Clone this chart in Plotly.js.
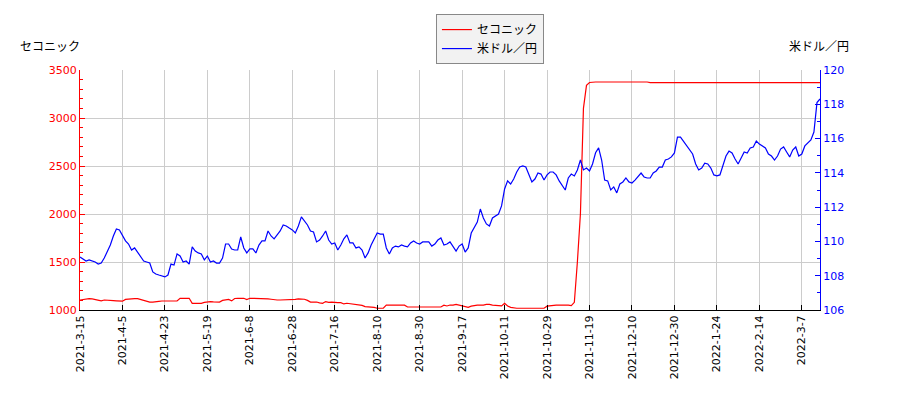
<!DOCTYPE html>
<html>
<head>
<meta charset="utf-8">
<script src="https://cdn.plot.ly/plotly-3.0.1.min.js"></script>
<style>html,body{margin:0;padding:0;background:#fff;}#chart{width:900px;height:400px;}</style>
</head>
<body>
<div id="chart"></div>
<script>
const tickLabels = ["2021-3-15","2021-4-5","2021-4-23","2021-5-19","2021-6-8","2021-6-28","2021-7-16","2021-8-10","2021-8-30","2021-9-17","2021-10-11","2021-10-29","2021-11-19","2021-12-10","2021-12-30","2022-1-24","2022-2-14","2022-3-7"];
const tickIndex = [0,14,28,42,56,70,84,98,112,126,140,154,168,182,196,210,224,238];

const seconic = [
1104,1110,1115,1118,1115,1110,1104,1095,1104,1104,
1100,1097,1095,1092,1092,1110,1115,1118,1118,1118,
1110,1097,1090,1083,1083,1083,1090,1094,1094,1094,
1094,1094,1094,1122,1122,1122,1122,1070,1070,1070,
1070,1080,1085,1087,1085,1083,1083,1100,1108,1110,
1095,1120,1122,1122,1122,1108,1122,1122,1122,1122,
1120,1118,1115,1112,1104,1104,1104,1104,1104,1104,
1104,1110,1115,1112,1112,1100,1083,1083,1083,1075,
1070,1088,1080,1083,1078,1076,1076,1063,1070,1066,
1063,1063,1055,1048,1035,1030,1030,1028,1018,1018,
1018,1050,1050,1050,1050,1050,1050,1050,1031,1031,
1031,1031,1031,1031,1031,1031,1031,1031,1031,1031,
1050,1042,1052,1050,1058,1050,1042,1035,1028,1040,
1048,1050,1050,1050,1058,1058,1050,1045,1040,1042,
1070,1042,1028,1020,1018,1018,1018,1015,1015,1015,
1015,1012,1015,1018,1040,1045,1050,1050,1050,1050,
1055,1050,1045,1080,1500,2000,3100,3340,3370,3375,
3375,3375,3375,3375,3375,3377,3375,3375,3375,3375,
3375,3375,3375,3375,3375,3375,3375,3375,3368,3368,
3368,3368,3368,3368,3368,3368,3368,3368,3368,3368,
3368,3368,3368,3368,3368,3368,3368,3368,3368,3368,
3368,3368,3368,3368,3368,3368,3368,3368,3368,3372,
3368,3368,3368,3368,3368,3368,3368,3368,3368,3368,
3368,3368,3368,3368,3368,3368,3368,3368,3368,3368,
3368,3368,3368,3368,3368
];

const usdjpy = [
109.09,108.97,108.86,108.92,108.86,108.80,108.68,108.74,109.03,109.44,
109.79,110.32,110.73,110.67,110.38,110.03,109.85,109.50,109.62,109.38,
109.09,108.86,108.80,108.74,108.22,108.10,108.04,107.98,107.93,108.04,
108.68,108.62,109.27,109.15,108.80,108.86,108.68,109.68,109.44,109.33,
109.27,108.92,109.15,108.80,108.86,108.74,108.74,109.03,109.85,109.85,
109.56,109.50,109.50,110.26,109.62,109.33,109.56,109.56,109.33,109.79,
110.03,110.03,110.61,110.32,110.15,110.38,110.61,110.96,110.90,110.78,
110.67,110.49,110.90,111.43,111.19,110.96,110.61,110.55,109.97,110.08,
110.32,110.61,110.08,109.85,109.91,109.50,109.79,110.15,110.38,109.91,
109.91,109.62,109.68,109.50,109.03,109.33,109.79,110.15,110.49,110.43,
110.43,109.62,109.27,109.62,109.73,109.68,109.79,109.73,109.68,109.91,
110.03,109.91,109.85,109.97,109.97,109.97,109.73,109.85,110.08,110.20,
109.79,109.85,109.97,109.68,109.44,109.73,109.85,109.38,109.62,110.49,
110.84,111.13,111.89,111.37,111.02,110.90,111.37,111.48,111.60,112.07,
113.06,113.53,113.35,113.64,114.05,114.34,114.40,114.34,113.93,113.47,
113.64,113.99,113.93,113.58,113.88,114.05,114.05,113.88,113.53,113.23,
113.00,113.70,113.93,113.82,114.17,114.75,114.17,114.28,114.11,114.52,
115.17,115.46,114.75,113.58,113.53,113.00,113.18,112.83,113.35,113.47,
113.70,113.47,113.41,113.58,113.76,113.99,113.76,113.70,113.70,113.99,
114.11,114.34,114.34,114.75,114.81,114.93,115.16,116.09,116.09,115.86,
115.63,115.39,115.10,114.52,114.17,114.28,114.57,114.52,114.28,113.88,
113.82,113.88,114.40,114.98,115.27,115.16,114.81,114.52,114.87,115.22,
115.16,115.45,115.51,115.86,115.68,115.57,115.45,115.10,114.98,114.75,
114.98,115.39,115.51,115.22,114.93,115.33,115.51,114.98,115.10,115.57,
115.74,115.92,116.38,118.10,118.31
];

const idxA = seconic.map((_, i) => i);
const idxB = usdjpy.map((_, i) => i);

const fontMain = "DejaVu Sans, sans-serif";
const fontJP = "Noto Sans CJK JP, sans-serif";

const traces = [
  {x: idxA, y: seconic, type: 'scatter', mode: 'lines', name: 'セコニック',
   line: {color: '#ff0000', width: 1.2}, yaxis: 'y'},
  {x: idxB, y: usdjpy, type: 'scatter', mode: 'lines', name: '米ドル／円',
   line: {color: '#0000ff', width: 1.2}, yaxis: 'y2'}
];

const layout = {
  width: 900, height: 400,
  margin: {l: 80, r: 80, t: 70, b: 90},
  paper_bgcolor: '#ffffff', plot_bgcolor: '#ffffff',
  showlegend: true,
  legend: {x: 0.481, y: 1.233, xanchor: 'left', yanchor: 'top',
           bgcolor: '#f2f2f2', bordercolor: '#888888', borderwidth: 1,
           font: {family: fontJP, size: 12, color: '#000'}, tracegroupgap: 0,
           itemwidth: 30},
  xaxis: {range: [0, 244], tickmode: 'array', tickvals: tickIndex, ticktext: tickLabels,
          tickangle: -90, ticks: 'inside', ticklen: 5, tickcolor: '#000',
          showline: true, linecolor: '#000', linewidth: 1, mirror: false,
          showgrid: true, gridcolor: '#cccccc', gridwidth: 1, zeroline: false,
          tickfont: {family: fontMain, size: 11, color: '#000'}},
  yaxis: {range: [1000, 3500], dtick: 500, tick0: 1000, ticks: 'inside', ticklen: 5,
          tickcolor: '#ff0000', showline: true, linecolor: '#ff0000', linewidth: 1,
          showgrid: true, gridcolor: '#cccccc', gridwidth: 1, zeroline: false,
          tickfont: {family: fontMain, size: 11, color: '#ff0000'},
          minor: {dtick: 100, tick0: 1000, ticks: 'inside', ticklen: 3, tickcolor: '#ff0000', showgrid: false}},
  yaxis2: {range: [106, 120], dtick: 2, tick0: 106, overlaying: 'y', side: 'right',
           ticks: 'inside', ticklen: 5, tickcolor: '#0000ff', showline: true,
           linecolor: '#0000ff', linewidth: 1, showgrid: false, zeroline: false,
           tickfont: {family: fontMain, size: 11, color: '#0000ff'},
           minor: {dtick: 1, tick0: 106, ticks: 'inside', ticklen: 3, tickcolor: '#0000ff', showgrid: false}},
  annotations: [
    {text: 'セコニック', xref: 'paper', yref: 'paper', x: -0.0405, y: 1.104, xanchor: 'center', yanchor: 'middle',
     showarrow: false, font: {family: fontJP, size: 12, color: '#000'}},
    {text: '米ドル／円', xref: 'paper', yref: 'paper', x: 0.9986, y: 1.104, xanchor: 'center', yanchor: 'middle',
     showarrow: false, font: {family: fontJP, size: 12, color: '#000'}}
  ]
};

Plotly.newPlot('chart', traces, layout, {displayModeBar: false, staticPlot: true});
</script>
</body>
</html>
